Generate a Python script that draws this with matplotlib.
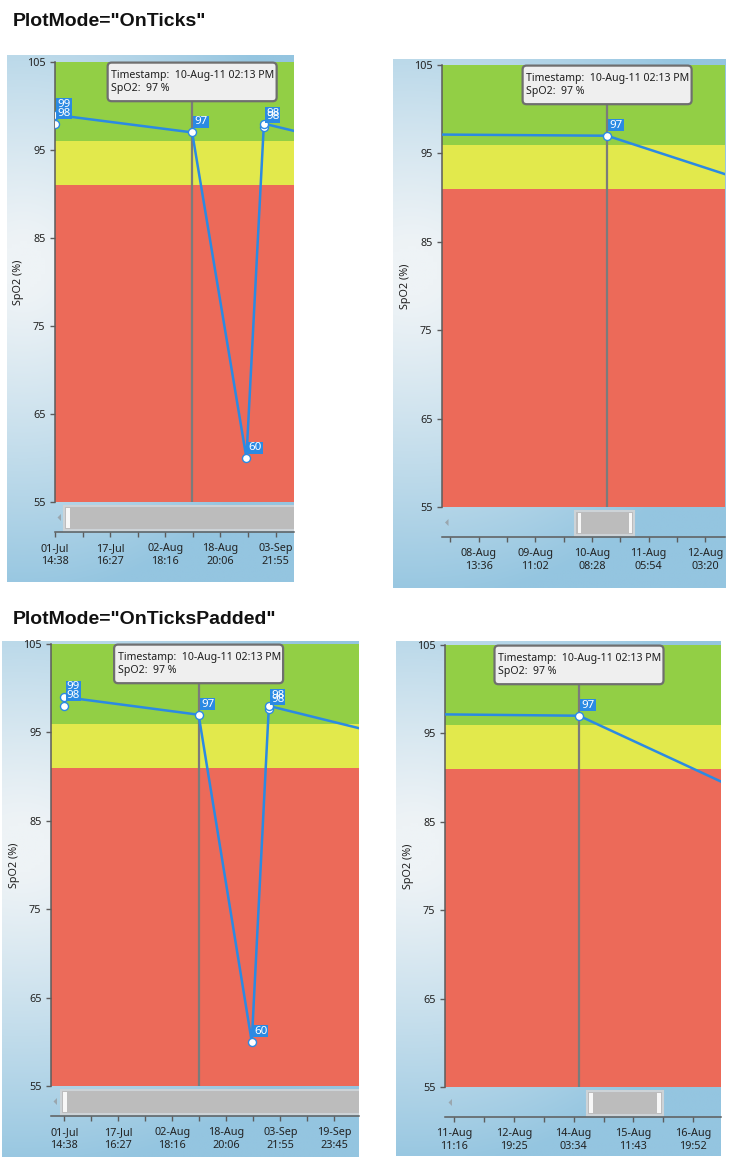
import matplotlib
matplotlib.use("Agg")
import matplotlib.pyplot as plt
import matplotlib.transforms as mtransforms
from matplotlib.patches import Rectangle, FancyBboxPatch, Polygon
import matplotlib.dates as mdates
import numpy as np
import pandas as pd

W, H, DPI = 751, 1161, 100

# ---------------- data ----------------
timestamps = ["2011-07-01 14:38", "2011-07-01 14:38", "2011-08-10 14:13",
              "2011-08-26 10:00", "2011-08-31 11:00", "2011-08-31 11:00",
              "2011-10-02 10:00"]
spo2 = [98, 99, 97, 60, 97.6, 98, 95]
highlight_index = 2

band_edges = [55, 91, 96, 105]
band_colors = ["#ec6a59", "#e2e94c", "#92cf45"]
y_ticks = [55, 65, 75, 85, 95, 105]
y_label = "SpO2 (%)"

titles = ['PlotMode="OnTicks"', 'PlotMode="OnTicksPadded"']

ticks_a = ["01-Jul\n14:38", "17-Jul\n16:27", "02-Aug\n18:16", "18-Aug\n20:06", "03-Sep\n21:55"]
ticks_b = ["08-Aug\n13:36", "09-Aug\n11:02", "10-Aug\n08:28", "11-Aug\n05:54", "12-Aug\n03:20"]
ticks_c = ["01-Jul\n14:38", "17-Jul\n16:27", "02-Aug\n18:16", "18-Aug\n20:06", "03-Sep\n21:55", "19-Sep\n23:45"]
ticks_d = ["11-Aug\n11:16", "12-Aug\n19:25", "14-Aug\n03:34", "15-Aug\n11:43", "16-Aug\n19:52"]

# ---------------- layout (pixels from top-left) ----------------
panels = [
    dict(bg=(7, 55, 294, 582), plot=(55, 62, 294, 502),
         xlim=("2011-07-01 14:38", "2011-09-09 06:57"),
         tick0="2011-07-01 14:38", step="16D 01:49:20", labels=ticks_a,
         thumb=(64, 340), handles=[(66, 70.3)], arrow=57.5),
    dict(bg=(393, 59, 725, 588), plot=(442, 65, 725, 507),
         xlim=("2011-08-07 23:44", "2011-08-12 10:50"),
         tick0="2011-08-08 13:36", step="0D 21:26:00", labels=ticks_b,
         thumb=(575, 634), handles=[(577.5, 581), (628.5, 632)], arrow=445),
    dict(bg=(2, 641, 359, 1157), plot=(51, 644, 359, 1086),
         xlim=("2011-06-27 15:36", "2011-09-27 08:09"),
         tick0="2011-07-01 14:38", step="16D 01:49:20", labels=ticks_c,
         thumb=(61, 400), handles=[(62.7, 66.7)], arrow=53.5),
    dict(bg=(396, 641, 721, 1156), plot=(445, 645, 721, 1087),
         xlim=("2011-08-07 14:03", "2011-08-13 18:41"),
         tick0="2011-08-07 19:04", step="1D 08:09:00", labels=ticks_d,
         thumb=(586.7, 662.7), handles=[(589, 592.7), (657, 660.7)], arrow=448.5),
]
title_pos = [(13, 26), (13, 624)]

BLUE = "#2b8ae3"
FONT = "Noto Sans"
plt.rcParams["font.family"] = [FONT, "DejaVu Sans"]

fig = plt.figure(figsize=(W / DPI, H / DPI), dpi=DPI)
fig.patch.set_facecolor("white")


def px_rect(l, t, r, b):
    return [l / W, 1 - b / H, (r - l) / W, (b - t) / H]


def background():
    nx, ny = 80, 160
    s = np.linspace(0, 1, nx)[None, :]
    t = np.linspace(0, 1, ny)[:, None]
    light = np.array([238, 243, 246]) / 255
    blue = np.array([148, 197, 224]) / 255
    d = np.sqrt(((s - 0.05) * 0.6) ** 2 + (t - 0.4) ** 2)
    w = np.clip((d - 0.05) / 0.58, 0, 1) ** 1.15
    return light * (1 - w[..., None]) + blue * w[..., None]


grad = background()
xdata = mdates.date2num(pd.to_datetime(timestamps))

for title, (tx, ty) in zip(titles, title_pos):
    fig.text(tx / W, 1 - ty / H, title, fontsize=14, fontweight="bold",
             family="Liberation Sans", va="baseline", ha="left", color="#111111")

for p in panels:
    bl, bt, br, bb = p["bg"]
    bg = fig.add_axes(px_rect(*p["bg"]), zorder=0)
    bg.imshow(grad, extent=[0, 1, 0, 1], aspect="auto", interpolation="bilinear")
    bg.set_axis_off()

    l, t, r, b = p["plot"]
    ax = fig.add_axes(px_rect(*p["plot"]), zorder=1)
    ax.set_facecolor("none")
    xl = mdates.date2num(pd.to_datetime(list(p["xlim"])))
    ax.set_xlim(xl)
    ax.set_ylim(band_edges[0], band_edges[-1])

    for lo, hi, c in zip(band_edges[:-1], band_edges[1:], band_colors):
        ax.axhspan(lo, hi, facecolor=c, edgecolor="none", zorder=0)

    # axes styling
    for side in ("top", "right"):
        ax.spines[side].set_visible(False)
    ax.spines["left"].set_color("#5c5c5c")
    ax.spines["left"].set_linewidth(1.1)
    ax.spines["bottom"].set_color("#5c5c5c")
    ax.spines["bottom"].set_linewidth(1.1)
    ax.spines["bottom"].set_position(("outward", 21.5))

    ax.set_yticks(y_ticks)
    ax.tick_params(axis="y", direction="out", length=3.8, width=1, color="#5c5c5c",
                   labelsize=7.8, labelcolor="#222222", pad=3.0)

    step = pd.Timedelta(p["step"])
    t0 = pd.Timestamp(p["tick0"])
    majors = [mdates.date2num(t0 + i * step) for i in range(len(p["labels"]))]
    minors = [mdates.date2num(t0 + (i + 0.5) * step) for i in range(-2, len(p["labels"]) + 1)]
    minors = [m for m in minors if xl[0] <= m <= xl[1]]
    ax.set_xticks(majors, p["labels"])
    ax.set_xticks(minors, minor=True)
    ax.tick_params(axis="x", which="both", direction="out", length=3.8, width=1,
                   color="#5c5c5c", labelsize=7.8, labelcolor="#222222", pad=4.2)
    for lbl in ax.get_xticklabels():
        lbl.set_linespacing(1.3)

    ax.set_ylabel(y_label, fontsize=7.8, color="#1e1e1e")
    ax.yaxis.set_label_coords(-31 / (r - l), 0.5)

    # trackball line
    xh = xdata[highlight_index]
    ax.axvline(xh, color="#7b7b7b", lw=1.6, zorder=2)

    # series
    ax.plot(xdata, spo2, color=BLUE, lw=1.8, zorder=3, solid_joinstyle="round")
    ax.plot(xdata, spo2, "o", ms=5.8, mfc="white", mec=BLUE, mew=1.0, zorder=4)

    # data labels (only for points inside the visible range)
    for xv, yv in zip(xdata, spo2):
        if not (xl[0] - 1e-6 <= xv <= xl[1]):
            continue
        tr = mtransforms.IdentityTransform() + mtransforms.ScaledTranslation(xv, yv, ax.transData)
        rect = Rectangle((1.2, 4.5), 15.5, 12, transform=tr, facecolor=BLUE,
                         edgecolor="none", zorder=5)
        ax.add_patch(rect)
        ax.text(9.0, 10.4, f"{round(yv)}", transform=tr, ha="center", va="center",
                fontsize=8.3, color="white", zorder=6, clip_on=True)

    # tooltip
    trt = mtransforms.IdentityTransform() + mtransforms.ScaledTranslation(
        xh, band_edges[-1], ax.transData)
    tip = FancyBboxPatch((-84.5, -39.2), 169, 38.6,
                         boxstyle="round,pad=0,rounding_size=4",
                         facecolor="#efefef", edgecolor="#6f6f6f", lw=1.6,
                         transform=trt, zorder=7, clip_on=False)
    ax.add_patch(tip)
    ts = pd.Timestamp(timestamps[highlight_index]).strftime("%d-%b-%y %I:%M %p")
    ax.text(-81, -13.2, f"Timestamp:  {ts}", transform=trt, ha="left", va="center",
            fontsize=7.6, color="#1e1e1e", zorder=8)
    ax.text(-81, -26.4, f"SpO2:  {round(spo2[highlight_index])} %", transform=trt,
            ha="left", va="center", fontsize=7.6, color="#1e1e1e", zorder=8)

    # scrollbar (UI chrome)
    clip = mtransforms.Bbox.from_extents(bl, H - bb, br, H - bt)
    ident = mtransforms.IdentityTransform()
    sy0, sy1 = b + 3.5, b + 27.5
    x0, x1 = p["thumb"]
    thumb = Rectangle((x0, H - sy1), x1 - x0, sy1 - sy0, transform=ident,
                      facecolor="#bcbcbc", edgecolor="#cdd3d7", lw=1.5, zorder=3)
    thumb.set_clip_box(clip)
    fig.add_artist(thumb)
    for hx0, hx1 in p["handles"]:
        hnd = Rectangle((hx0, H - (sy1 - 2)), hx1 - hx0, sy1 - sy0 - 4, transform=ident,
                        facecolor="#f7f7f7", edgecolor="none", zorder=4)
        hnd.set_clip_box(clip)
        fig.add_artist(hnd)
    ax_ = p["arrow"]
    cy = (sy0 + sy1) / 2
    tri = Polygon([(ax_, H - cy), (ax_ + 3.5, H - cy + 3.5), (ax_ + 3.5, H - cy - 3.5)],
                  closed=True, transform=ident, facecolor="#9aa6ae", edgecolor="none",
                  zorder=4)
    fig.add_artist(tri)

fig.savefig("out.png", dpi=DPI)
